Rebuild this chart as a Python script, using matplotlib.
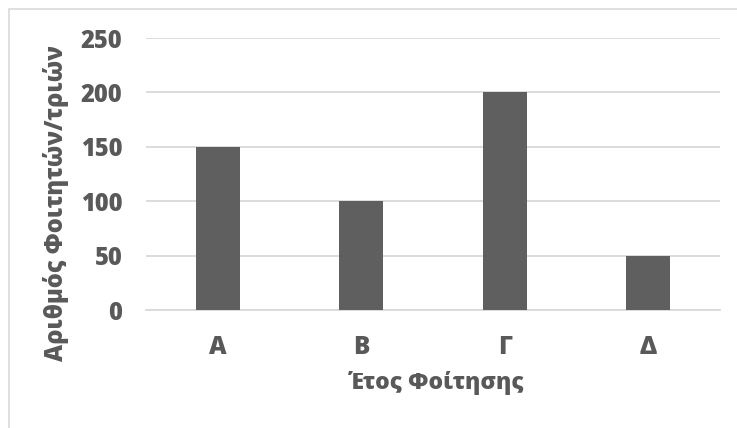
import matplotlib
matplotlib.use("Agg")
import matplotlib.pyplot as plt
from matplotlib.patches import Rectangle

categories = ["Α", "Β", "Γ", "Δ"]
values = [150, 100, 200, 50]
yticks = [0, 50, 100, 150, 200, 250]

plt.rcParams['font.family'] = ['Open Sans', 'DejaVu Sans']
txt = '#595959'
grid = '#d9d9d9'
calib = ['Open Sans', 'DejaVu Sans']

fig = plt.figure(figsize=(7.37, 4.28), dpi=100)
ax = fig.add_axes([146/737, 1-310/428, 574/737, 272/428])

x = range(len(categories))
ax.bar(x, values, width=0.31, color='#5f5f5f', zorder=3)
ax.set_xlim(-0.5, len(categories)-0.5)
ax.set_ylim(0, 250)
ax.set_yticks(yticks)
ax.set_yticklabels([str(v) for v in yticks], fontsize=17, fontweight='heavy',
                   color=txt, family=calib)
ax.set_xticks(list(x))
ax.set_xticklabels(categories, fontsize=17.5, fontweight='heavy', color=txt, family=calib)
ax.tick_params(axis='both', length=0)
ax.tick_params(axis='y', pad=17)
ax.tick_params(axis='x', pad=18)
ax.yaxis.grid(True, color=grid, linewidth=1.3, zorder=0)
for s in ['top', 'right', 'left']:
    ax.spines[s].set_visible(False)
ax.spines['bottom'].set_color(grid)
ax.spines['bottom'].set_linewidth(1.3)

fig.text(437/737, 1-383/428, "Έτος Φοίτησης", fontsize=16.5, fontweight='heavy',
         color=txt, ha='center', va='center', family=calib)
fig.text(56/737, 1-203/428, "Αριθμός Φοιτητών/τριών", fontsize=17, fontweight='heavy',
         color=txt, ha='center', va='center', rotation=90, family=calib)

fig.patches.append(Rectangle((9/737, -0.1), 1.0, 1-9/428+0.1, transform=fig.transFigure,
                             fill=False, edgecolor=grid, linewidth=1.2))

fig.savefig("out.png", dpi=100)
